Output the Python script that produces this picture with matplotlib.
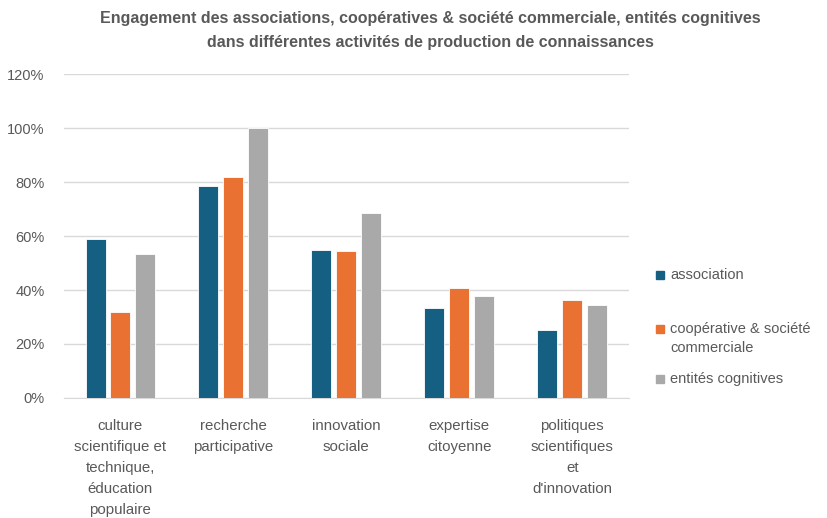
import matplotlib.pyplot as plt
import numpy as np
from matplotlib.patches import Rectangle

categories = ['culture\nscientifique et\ntechnique,\néducation\npopulaire',
              'recherche\nparticipative',
              'innovation\nsociale',
              'expertise\ncitoyenne',
              'politiques\nscientifiques\net\nd\'innovation']
association = [58.8, 78.4, 54.9, 33.4, 25.3]
cooperative = [31.8, 81.8, 54.5, 40.9, 36.4]
entites = [53.2, 100.0, 68.7, 37.6, 34.3]
series_names = ['association', 'coopérative & société\ncommerciale', 'entités cognitives']
colors = ['#156082', '#E97132', '#A9A9A9']

plt.rcParams['font.family'] = ['Liberation Sans', 'DejaVu Sans']
txt = '#595959'

fig = plt.figure(figsize=(8.28, 5.18), dpi=100)
ax = fig.add_axes([0.0773, 0.2317, 0.682, 0.6253])

x = np.arange(len(categories))
w = 0.177
pitch = 0.221
for i, vals in enumerate([association, cooperative, entites]):
    ax.bar(x + (i - 1) * pitch, vals, width=w, color=colors[i],
           edgecolor='white', linewidth=0.6, zorder=3)

ax.set_xlim(-0.5, 4.5)
ax.set_ylim(0, 120)
ax.set_yticks(np.arange(0, 121, 20))
ax.set_yticklabels(['%d%%' % v for v in range(0, 121, 20)], color=txt, fontsize=10.5)
ax.set_xticks(x)
ax.set_xticklabels(categories, color=txt, fontsize=10.8, linespacing=1.65, va='top')
ax.tick_params(axis='both', length=0)
ax.tick_params(axis='y', pad=14)
ax.tick_params(axis='x', pad=15)
ax.grid(axis='y', color='#D9D9D9', linewidth=1, zorder=0)
for s in ['top', 'right', 'left']:
    ax.spines[s].set_visible(False)
ax.spines['bottom'].set_color('#D9D9D9')

fig.text(0.52, 0.978, 'Engagement des associations, coopératives & société commerciale, entités cognitives\n'
         'dans différentes activités de production de connaissances',
         ha='center', va='top', fontsize=11.5, fontweight='bold', color=txt,
         linespacing=1.75)

# legend drawn by hand to mimic spacing
leg_y = [275, 329, 379]
for name, c, yy in zip(series_names, colors, leg_y):
    fy = 1 - yy / 518
    fig.patches.append(Rectangle((656 / 828, fy - 4 / 518), 8 / 828, 8 / 518,
                                 transform=fig.transFigure, color=c, figure=fig))
    fig.text(670 / 828, fy + 7 / 518, name, ha='left', va='top', fontsize=10.5,
             color=txt, linespacing=1.45)

fig.savefig('out.png', dpi=100)
